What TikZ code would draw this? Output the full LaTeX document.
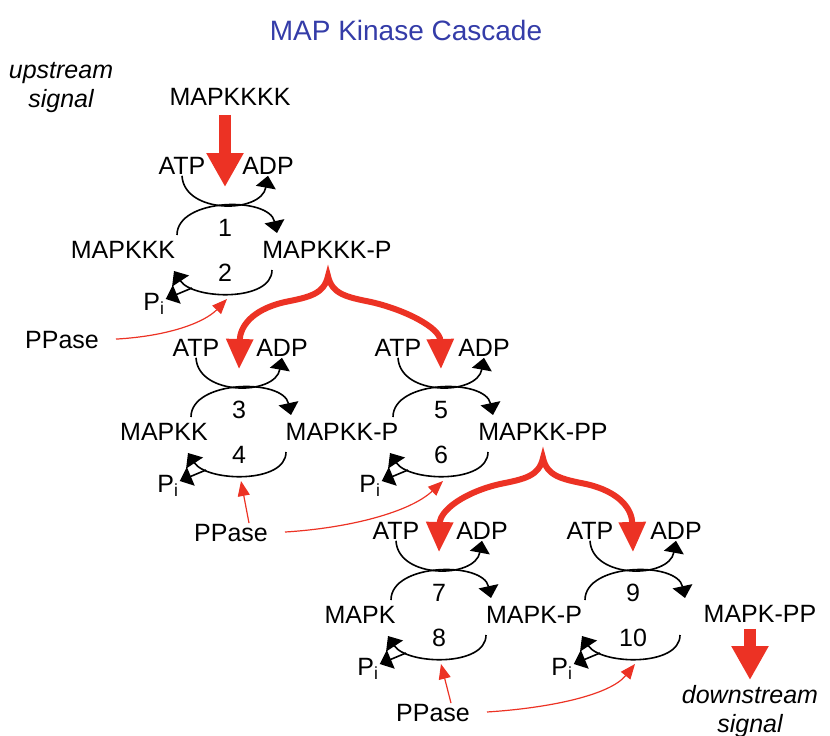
\documentclass[tikz,border=0pt]{standalone}
\usepackage{fontspec}
\setmainfont{Liberation Sans}
\usetikzlibrary{arrows.meta}
\definecolor{sigred}{RGB}{236,50,36}
\definecolor{titleblue}{RGB}{52,60,168}
\tikzset{
  every node/.style={inner sep=1pt,font=\fontsize{25}{30}\selectfont},
  rxn/.style={line width=1.6pt,-{Triangle[width=20pt,length=12pt]}},
  ppase/.style={sigred,line width=1.2pt,-{Triangle[width=12pt,length=15pt]}},
  brace/.style={sigred,line width=6pt,{Triangle[width=26pt,length=30pt]}-{Triangle[width=26pt,length=30pt]}},
  bigarrow/.style={sigred,line width=12pt,-{Triangle[width=35pt,length=34pt]}},
  signal/.style={font=\fontsize{25}{29}\selectfont\itshape,align=center}
}
\begin{document}
\begin{tikzpicture}[x=1pt,y=-1pt]
\useasboundingbox (0,0) rectangle (830,736);
\node[titleblue,font=\fontsize{28}{32}\selectfont] (title) at (406,30) {MAP Kinase Cascade};
\node[signal] (ups) at (61,88) {upstream\\signal};
\node[signal,anchor=north] (ds) at (750,684) {downstream\\signal};

% kinases
\node (k4) at (230,97) {MAPKKKK};
\node (k3) at (123,250) {MAPKKK};
\node (k3p) at (327,250) {MAPKKK-P};
\node (k2) at (164,432) {MAPKK};
\node (k2p) at (342,432) {MAPKK-P};
\node (k2pp) at (543,432) {MAPKK-PP};
\node (k1) at (360,615) {MAPK};
\node (k1p) at (534,615) {MAPK-P};
\node (k1pp) at (760,614) {MAPK-PP};

\node (pp1) at (62,340) {PPase};
\node (pp2) at (231,533) {PPase};
\node (pp3) at (433,713) {PPase};

% the five phosphorylation cycles
\foreach \u/\l/\x/\y in {1/2/225/250,3/4/239/432,5/6/441/432,7/8/439/615,9/10/633/615}
{
  \begin{scope}[shift={(\x,\y)}]
    \node (atp\u) at (-43,-84) {ATP};
    \node (adp\u) at (43,-84) {ADP};
    \node (fw\u) at (0,-22) {\u};
    \node (bw\u) at (0,23) {\l};
    \node (pi\u) at (-71,54) {P\textsubscript{i}};
    \coordinate (in\u) at (0,-63);
    \coordinate (ph\u) at (2,49);
    \draw[rxn] (-48,-15) .. controls (-48,-52) and (44,-54) .. (52,-17);
    \draw[rxn] (atp\u.south) .. controls (-41,-36) and (36,-36) .. (adp\u.south);
    \draw[rxn] (47,20) .. controls (47,52) and (-32,50) .. (-51,21);
    \draw[rxn] (-33,38) -- ([yshift=5pt]pi\u.east);
  \end{scope}
}

% activation
\draw[bigarrow,shorten <=8pt] (in1 |- k4.south) -- (in1);
\coordinate (br1) at (328,276);
\coordinate (br2) at (543,458);
\draw[brace] (in3) .. controls (240,328) and (250,310) .. (285,302) .. controls (310,297) and (324,294) .. (br1)
  .. controls (332,294) and (346,297) .. (371,302) .. controls (406,310) and (440,328) .. (in5);
\draw[brace] (in7) .. controls (440,510) and (465,492) .. (500,484) .. controls (525,479) and (539,476) .. (br2)
  .. controls (547,476) and (561,479) .. (586,484) .. controls (621,492) and (632,510) .. (in9);
\draw[bigarrow,shorten <=5pt,shorten >=4pt] (ds.north |- k1pp.south) -- (ds.north);

% phosphatases
\draw[ppase,shorten <=16pt] (pp1.east) .. controls (170,336) and (205,322) .. (ph1);
\draw[ppase] ([xshift=18pt]pp2.north) -- (ph3);
\draw[ppase,shorten <=16pt] (pp2.east) .. controls (350,528) and (410,512) .. (ph5);
\draw[ppase] ([xshift=18pt]pp3.north) -- (ph7);
\draw[ppase,shorten <=16pt] (pp3.east) .. controls (550,708) and (610,695) .. (ph9);
\end{tikzpicture}
\end{document}
